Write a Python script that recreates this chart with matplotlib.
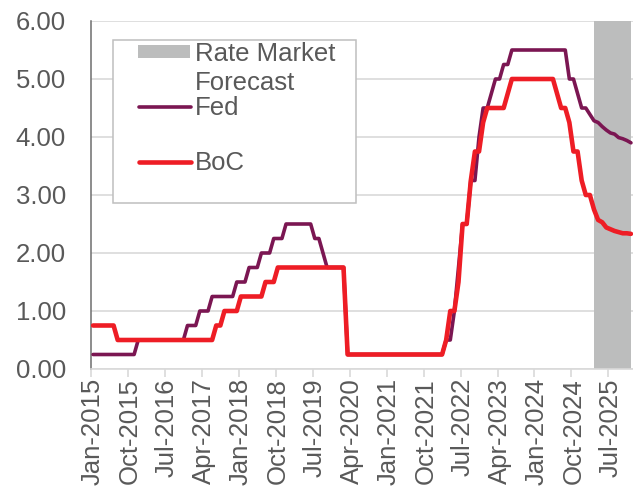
import matplotlib
matplotlib.use("Agg")
import matplotlib.pyplot as plt
from matplotlib.patches import Rectangle
from matplotlib.lines import Line2D
import numpy as np

plt.rcParams['font.family'] = ['Liberation Sans', 'DejaVu Sans']

# ---------------- data (month-end policy rates, Jan-2015 .. Dec-2025) ----------------
fed_2015 = [0.25] * 11 + [0.50]
fed_2016 = [0.50] * 11 + [0.75]
fed_2017 = [0.75, 0.75, 1.00, 1.00, 1.00, 1.25, 1.25, 1.25, 1.25, 1.25, 1.25, 1.50]
fed_2018 = [1.50, 1.50, 1.75, 1.75, 1.75, 2.00, 2.00, 2.00, 2.25, 2.25, 2.25, 2.50]
fed_2019 = [2.50] * 6 + [2.25, 2.25, 2.00, 1.75, 1.75, 1.75]
fed_2020 = [1.75, 1.75] + [0.25] * 10
fed_2021 = [0.25] * 12
fed_2022 = [0.25, 0.25, 0.50, 0.50, 1.00, 1.75, 2.50, 2.50, 3.25, 3.25, 4.00, 4.50]
fed_2023 = [4.50, 4.75, 5.00, 5.00, 5.25, 5.25] + [5.50] * 6
fed_2024 = [5.50] * 8 + [5.00, 5.00, 4.75, 4.50]
fed_2025 = [4.50, 4.39, 4.28, 4.25, 4.18, 4.12, 4.07, 4.05, 3.99, 3.97, 3.94, 3.90]

boc_2015 = [0.75] * 6 + [0.50] * 6
boc_2016 = [0.50] * 12
boc_2017 = [0.50] * 6 + [0.75, 0.75, 1.00, 1.00, 1.00, 1.00]
boc_2018 = [1.25] * 6 + [1.50] * 3 + [1.75] * 3
boc_2019 = [1.75] * 12
boc_2020 = [1.75, 1.75] + [0.25] * 10
boc_2021 = [0.25] * 12
boc_2022 = [0.25, 0.25, 0.50, 1.00, 1.00, 1.50, 2.50, 2.50, 3.25, 3.75, 3.75, 4.25]
boc_2023 = [4.50] * 5 + [4.75] + [5.00] * 6
boc_2024 = [5.00] * 5 + [4.75, 4.50, 4.50, 4.25, 3.75, 3.75, 3.25]
boc_2025 = [3.00, 3.00, 2.75, 2.57, 2.53, 2.44, 2.41, 2.38, 2.36, 2.34, 2.34, 2.33]

fed_rate = (fed_2015 + fed_2016 + fed_2017 + fed_2018 + fed_2019 + fed_2020
            + fed_2021 + fed_2022 + fed_2023 + fed_2024 + fed_2025)
boc_rate = (boc_2015 + boc_2016 + boc_2017 + boc_2018 + boc_2019 + boc_2020
            + boc_2021 + boc_2022 + boc_2023 + boc_2024 + boc_2025)

month_names = ["Jan", "Feb", "Mar", "Apr", "May", "Jun",
               "Jul", "Aug", "Sep", "Oct", "Nov", "Dec"]
years = list(range(2015, 2026))
month_labels = [f"{m}-{y}" for y in years for m in month_names]

tick_labels = ["Jan-2015", "Oct-2015", "Jul-2016", "Apr-2017", "Jan-2018",
               "Oct-2018", "Jul-2019", "Apr-2020", "Jan-2021", "Oct-2021",
               "Jul-2022", "Apr-2023", "Jan-2024", "Oct-2024", "Jul-2025"]
forecast_start = "Mar-2025"
forecast_end = "Dec-2025"
series_names = ["Fed", "BoC"]
shade_label = "Rate Market\nForecast"
y_ticks = [0, 1, 2, 3, 4, 5, 6]

# ---------------- styling ----------------
W, H = 633, 491
FED_C = "#7B1652"
BOC_C = "#EE1D25"
SHADE_C = "#BCBDBD"
GRID_C = "#D9D9D9"
TEXT_C = "#595959"
FS = 18.5

fig = plt.figure(figsize=(W / 100, H / 100), dpi=100)
ax = fig.add_axes([91 / W, 1 - 369 / H, (633 - 91) / W, (369 - 21) / H])

x = np.arange(len(fed_rate))
i0 = month_labels.index(forecast_start)
i1 = month_labels.index(forecast_end)
ax.axvspan(i0, i1, color=SHADE_C, lw=0, zorder=1)

ax.plot(x, fed_rate, color=FED_C, lw=2.6, solid_joinstyle="round",
        solid_capstyle="round", zorder=3)
ax.plot(x, boc_rate, color=BOC_C, lw=3.3, solid_joinstyle="round",
        solid_capstyle="round", zorder=4)

ax.set_xlim(-0.5, len(fed_rate) - 0.5)
ax.set_ylim(0, 6)

# y axis
ax.set_yticks(y_ticks)
ax.set_yticklabels([f"{v:.2f}" for v in y_ticks])
ax.tick_params(axis="y", length=0, pad=18, labelsize=FS, labelcolor=TEXT_C)
ax.yaxis.grid(True, color=GRID_C, lw=1.2, zorder=0)
ax.set_axisbelow(True)

# x axis
tick_pos = [month_labels.index(t) for t in tick_labels]
ax.set_xticks(tick_pos)
ax.set_xticklabels(tick_labels, rotation=90, ha="center", va="top")
ax.set_xticks([p - 0.5 for p in tick_pos], minor=True)
ax.tick_params(axis="x", which="major", length=0, pad=6.5, labelsize=FS,
               labelcolor=TEXT_C)
ax.tick_params(axis="x", which="minor", length=6, width=1.2, color=GRID_C,
               direction="out")

for s in ("top", "right"):
    ax.spines[s].set_visible(False)
ax.spines["left"].set_color("#6E6E6E")
ax.spines["left"].set_linewidth(1.1)
ax.spines["bottom"].set_color(GRID_C)
ax.spines["bottom"].set_linewidth(1.2)


# ---------------- legend (drawn by hand, figure pixel coordinates) ----------------
def fx(px):
    return px / W


def fy(py):
    return 1 - py / H


box = Rectangle((fx(113.3), fy(203.3)), fx(355.7) - fx(113.3), fy(40) - fy(203.3),
                transform=fig.transFigure, facecolor="white", edgecolor="#BFBFBF",
                lw=1.1, zorder=10)
fig.patches.append(box)
patch = Rectangle((fx(138.3), fy(58.3)), fx(190) - fx(138.3), fy(45) - fy(58.3),
                  transform=fig.transFigure, facecolor=SHADE_C, lw=0, zorder=11)
fig.patches.append(patch)
fig.lines.append(Line2D([fx(138.5), fx(190.5)], [fy(106.7), fy(106.7)],
                        transform=fig.transFigure, color=FED_C, lw=2.6,
                        solid_capstyle="round", zorder=11))
fig.lines.append(Line2D([fx(138.5), fx(190.5)], [fy(161.7), fy(161.7)],
                        transform=fig.transFigure, color=BOC_C, lw=3.3,
                        solid_capstyle="round", zorder=11))

shade_lines = shade_label.split("\n")
fig.text(fx(195), fy(60.7), shade_lines[0], fontsize=FS, color=TEXT_C,
         va="baseline", ha="left", zorder=12)
fig.text(fx(195), fy(90), shade_lines[1], fontsize=FS, color=TEXT_C,
         va="baseline", ha="left", zorder=12)
fig.text(fx(195), fy(115), series_names[0], fontsize=FS, color=TEXT_C,
         va="baseline", ha="left", zorder=12)
fig.text(fx(195), fy(170), series_names[1], fontsize=FS, color=TEXT_C,
         va="baseline", ha="left", zorder=12)

fig.savefig("out.png", dpi=100)
